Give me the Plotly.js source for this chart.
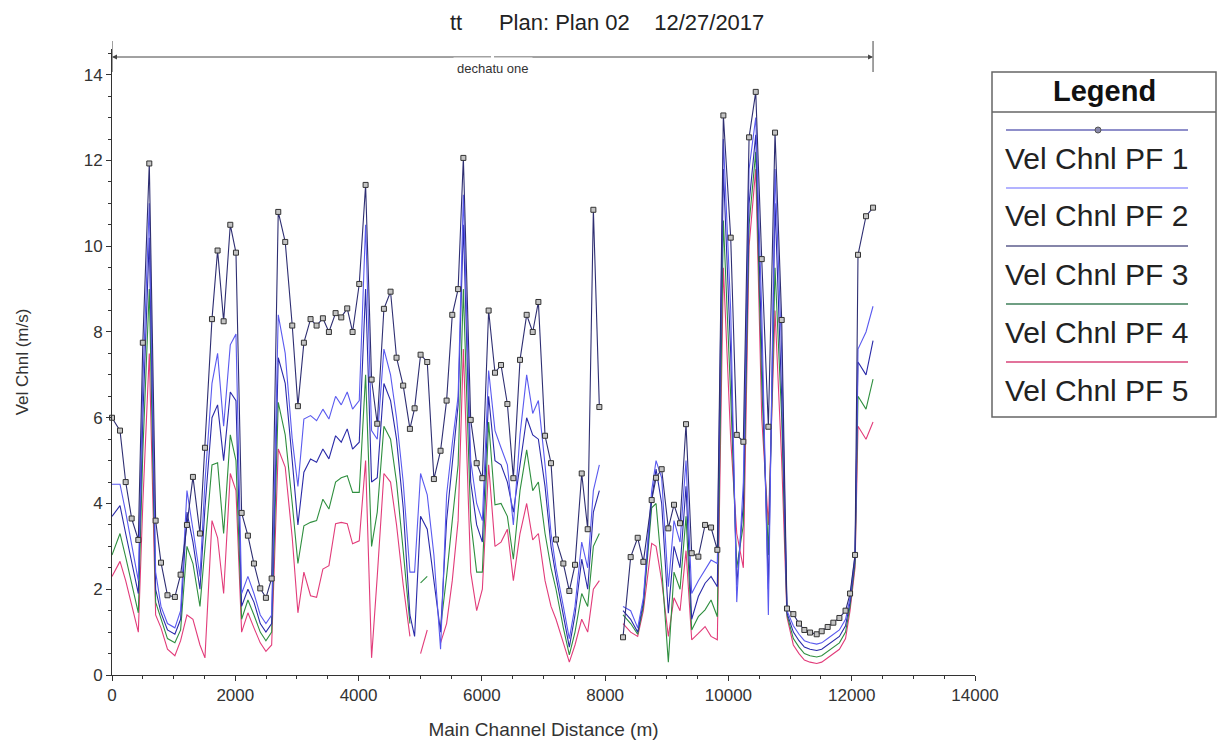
<!DOCTYPE html>
<html>
<head>
<meta charset="utf-8">
<script src="https://cdn.plot.ly/plotly-3.0.1.min.js"></script>
<style>html,body{margin:0;padding:0;background:#fff;}#chart{width:1218px;height:742px;}</style>
</head>
<body>
<div id="chart"></div>
<script>
// ---- data ----
const reachName = "dechatu one";
const seriesNames = ["Vel Chnl PF 1", "Vel Chnl PF 2", "Vel Chnl PF 3", "Vel Chnl PF 4", "Vel Chnl PF 5"];
const stations = [0,130,222,319,427,500,605,708,795,900,1020,1113,1216,1313,1427,1508,1622,1713,1811,1919,2011,2103,2205,2303,2405,2497,2590,2697,2810,2924,3016,3113,3221,3319,3421,3519,3627,3719,3816,3903,4011,4114,4211,4303,4411,4519,4616,4724,4833,4909,5006,5114,5222,5330,5428,5520,5615,5700,5819,5916,6008,6110,6213,6311,6414,6511,6619,6727,6825,6917,7025,7122,7203,7322,7419,7511,7620,7717,7809,7906,8100,8290,8414,8528,8620,8755,8826,8917,9025,9117,9215,9312,9404,9512,9621,9718,9820,9918,10037,10135,10242,10335,10443,10540,10648,10756,10864,10950,11053,11145,11232,11324,11432,11513,11610,11702,11800,11900,11973,12054,12102,12232,12346];
const pf1 = [6.0,5.7,4.5,3.65,3.15,7.75,11.93,3.6,2.62,1.86,1.82,2.34,3.5,4.62,3.3,5.3,8.3,9.9,8.25,10.5,9.85,3.78,3.25,2.6,2.02,1.8,2.25,10.8,10.1,8.15,6.27,7.75,8.3,8.15,8.32,8.0,8.44,8.34,8.55,8.0,9.12,11.43,6.89,5.86,8.54,8.94,7.4,6.75,5.74,6.22,7.47,7.3,4.57,5.23,6.4,8.4,9.0,12.06,5.95,4.94,4.59,8.5,7.05,7.23,6.32,4.59,7.35,8.4,8.0,8.7,5.58,4.94,3.16,2.6,1.96,2.57,4.7,3.4,10.85,6.25,null,0.88,2.75,3.2,2.64,4.08,4.6,4.8,3.42,3.97,3.54,5.85,2.84,2.76,3.5,3.44,2.92,13.05,10.2,5.6,5.44,12.54,13.6,9.7,5.79,12.65,8.28,1.55,1.42,1.2,1.05,0.99,0.95,1.02,1.12,1.22,1.33,1.5,1.9,2.8,9.8,10.7,10.9];
const pf2 = [4.45,4.45,3.8,3.0,2.2,6.8,11.0,2.4,1.6,1.2,1.1,1.5,4.3,3.4,2.3,4.5,6.8,7.5,5.8,7.7,7.95,1.9,2.3,1.9,1.4,1.2,1.4,8.4,7.5,5.5,4.4,5.97,6.05,5.93,6.2,5.97,6.5,6.3,6.6,6.2,6.4,10.5,5.7,5.5,7.6,7.0,6.0,4.5,2.4,2.4,4.7,4.2,2.8,0.6,4.2,5.4,6.5,11.2,5.0,4.0,3.6,7.1,5.7,5.3,4.9,3.5,5.6,7.0,6.1,6.4,4.9,3.3,2.5,1.6,0.85,1.6,3.1,2.5,4.3,4.9,null,1.6,1.5,1.1,1.8,4.3,5.0,4.6,2.06,3.6,3.1,5.0,1.9,2.2,2.45,2.68,2.6,12.5,8.5,1.7,4.5,11.8,13.0,8.5,1.4,11.8,7.5,1.5,1.15,0.95,0.8,0.75,0.72,0.75,0.85,0.95,1.05,1.3,1.8,2.8,7.6,8.0,8.6];
const pf3 = [3.7,3.95,3.3,2.6,1.9,6.0,10.2,2.0,1.45,1.05,0.95,1.3,3.8,3.1,2.0,3.9,6.0,6.3,5.0,6.6,6.4,1.6,2.0,1.7,1.2,1.0,1.2,7.4,6.8,5.0,3.5,4.73,5.04,4.96,5.27,5.04,5.58,5.43,5.74,5.27,5.43,9.0,4.5,4.6,6.8,6.4,5.5,3.9,1.4,0.9,3.7,3.4,2.2,1.0,3.6,5.0,6.3,10.5,4.5,3.5,3.1,6.5,5.0,4.9,4.5,3.8,4.9,6.0,5.6,5.5,4.4,3.0,2.3,1.4,0.65,1.4,2.7,2.0,3.8,4.3,null,1.5,1.3,1.0,1.7,4.1,4.8,4.0,1.44,3.0,2.5,4.4,1.3,1.83,2.14,2.3,2.06,11.8,7.5,2.1,4.0,11.0,12.6,7.6,2.0,11.0,6.5,1.45,1.0,0.8,0.65,0.6,0.57,0.6,0.7,0.8,0.9,1.15,1.7,2.7,7.3,7.0,7.8];
const pf4 = [2.8,3.3,2.75,2.1,1.45,5.2,9.0,1.7,1.3,0.85,0.75,1.05,3.0,2.6,1.6,3.0,4.9,4.95,3.3,5.6,5.0,1.3,1.75,1.4,1.0,0.8,1.0,6.36,5.6,4.0,2.6,3.48,3.56,3.6,4.1,3.87,4.5,4.6,4.65,4.26,4.26,7.0,3.0,3.8,5.8,5.5,4.5,2.9,1.2,null,2.15,2.3,null,1.1,2.3,3.6,4.9,9.0,3.6,2.4,2.4,5.9,3.97,4.0,3.7,2.7,4.3,5.25,4.3,4.5,3.3,2.5,2.0,1.1,0.47,1.0,1.9,1.6,3.0,3.3,null,1.4,1.2,0.95,1.6,3.9,4.0,2.5,0.3,2.4,2.0,3.7,1.05,1.36,1.52,1.75,1.36,10.6,6.5,2.5,3.5,10.5,12.2,6.8,2.8,9.5,6.0,1.4,0.85,0.65,0.5,0.45,0.42,0.45,0.55,0.65,0.75,1.0,1.6,2.6,6.5,6.2,6.9];
const pf5 = [2.3,2.65,2.2,1.6,1.0,4.0,7.5,1.4,1.1,0.6,0.45,0.8,1.4,1.3,0.7,0.4,3.6,3.2,1.9,4.7,4.3,1.0,1.45,1.1,0.75,0.55,0.7,5.27,4.85,3.2,1.45,2.4,1.85,1.81,2.47,2.55,3.53,3.56,3.53,3.06,3.13,5.0,0.4,2.3,4.7,4.5,3.5,2.1,0.9,null,0.5,1.05,null,0.75,1.2,2.2,3.6,7.6,2.4,1.5,2.0,4.9,3.0,3.1,3.4,2.2,3.3,4.0,3.15,3.3,2.2,1.6,1.3,0.75,0.3,0.7,1.3,1.0,2.0,2.2,null,1.2,1.0,0.9,1.5,3.07,3.0,2.2,0.9,1.8,1.5,2.9,0.82,0.97,1.13,0.9,0.82,9.5,5.5,3.3,2.5,10.0,11.8,6.0,3.5,8.5,5.0,1.35,0.7,0.5,0.35,0.3,0.27,0.3,0.4,0.5,0.6,0.85,1.5,2.5,5.8,5.5,5.9];
const xTickVals = [0,2000,4000,6000,8000,10000,12000,14000];
const yTickVals = [0,2,4,6,8,10,12,14];
const titleText = 'tt\u00a0\u00a0\u00a0\u00a0\u00a0\u00a0Plan: Plan 02\u00a0\u00a0\u00a0\u00a012/27/2017';

// ---- layout geometry ----
const W = 1218, H = 742;
const M = {l:112, r:243, t:49, b:67};
const PW = W - M.l - M.r, PH = H - M.t - M.b;
const px2x = p => (p - M.l) / PW;          // page px -> paper x
const px2y = p => (H - M.b - p) / PH;      // page px -> paper y

const colors = ['#2e2e72', '#5a5aef', '#2a2aa8', '#2f8f3f', '#e23c7a'];
const legendColors = ['#6a6ab8', '#9a9aff', '#5c5c8c', '#3f7f5a', '#d8447a'];
const series = [pf1, pf2, pf3, pf4, pf5];

const traces = [];
for (let i = series.length - 1; i >= 0; i--) {
  const t = {
    x: stations, y: series[i], type: 'scatter', name: seriesNames[i],
    mode: i === 0 ? 'lines+markers' : 'lines',
    line: {color: colors[i], width: 1.1},
    connectgaps: false, showlegend: false, cliponaxis: false, hoverinfo: 'x+y+name'
  };
  if (i === 0) t.marker = {symbol: 'square', size: 5, color: '#c4c4c4', line: {color: '#333', width: 1}};
  traces.push(t);
}

const font = 'Liberation Sans, Arial, sans-serif';
const shapes = [];
const annotations = [];

// reach bracket ("dechatu one")
const reachStart = stations[0], reachEnd = stations[stations.length - 1];
const reachMid = (reachStart + reachEnd) / 2;
const yb = px2y(57);
shapes.push({type:'line', xref:'x', yref:'paper', x0:reachStart, x1:reachStart, y0:px2y(41), y1:px2y(72), line:{color:'#444', width:1}});
shapes.push({type:'line', xref:'x', yref:'paper', x0:reachEnd, x1:reachEnd, y0:px2y(41), y1:px2y(72), line:{color:'#444', width:1}});
[reachStart, reachEnd].forEach(xe => annotations.push({
  x: xe, y: yb, xref:'x', yref:'paper', axref:'x', ax: reachMid, ayref:'pixel', ay: 0,
  text:'', showarrow:true, arrowhead:2, arrowsize:1, arrowwidth:1, arrowcolor:'#444'
}));
annotations.push({x: reachMid, y: yb, xref:'x', yref:'paper', text: reachName, showarrow:false,
  font:{family:font, size:13, color:'#333'}, bgcolor:'#fff', borderpad:3});

// title
annotations.push({x: px2x(607), y: px2y(22), xref:'paper', yref:'paper', text: titleText,
  showarrow:false, font:{family:font, size:22, color:'#222'}, xanchor:'center', yanchor:'middle'});

// legend box (drawn by hand: line sample above its label)
const lx0 = px2x(992), lx1 = px2x(1216);
shapes.push({type:'rect', xref:'paper', yref:'paper', x0:lx0, x1:lx1, y0:px2y(417), y1:px2y(72), line:{color:'#666', width:1.5}, fillcolor:'rgba(0,0,0,0)'});
shapes.push({type:'line', xref:'paper', yref:'paper', x0:lx0, x1:lx1, y0:px2y(112), y1:px2y(112), line:{color:'#666', width:1.5}});
annotations.push({x:(lx0+lx1)/2, y:px2y(91), xref:'paper', yref:'paper', text:'<b>Legend</b>', showarrow:false,
  font:{family:font, size:29, color:'#111'}, xanchor:'center', yanchor:'middle'});
seriesNames.forEach((nm, i) => {
  const ly = 130 + 58 * i;
  shapes.push({type:'line', xref:'paper', yref:'paper', x0:px2x(1006), x1:px2x(1188), y0:px2y(ly), y1:px2y(ly), line:{color:legendColors[i], width:1.3}});
  if (i === 0) shapes.push({type:'circle', xref:'paper', yref:'paper', x0:px2x(1095), x1:px2x(1101), y0:px2y(ly+3), y1:px2y(ly-3), line:{color:'#555', width:1}, fillcolor:'#8888aa'});
  annotations.push({x:px2x(1003), y:px2y(ly + 28), xref:'paper', yref:'paper', text:nm, showarrow:false,
    font:{family:font, size:30, color:'#222'}, xanchor:'left', yanchor:'middle'});
});

const layout = {
  width: W, height: H, margin: M, paper_bgcolor:'#fff', plot_bgcolor:'#fff',
  showlegend: false,
  font: {family: font, color:'#333'},
  xaxis: {range:[0,14000], tickvals:xTickVals, ticktext:xTickVals.map(String), showgrid:false, zeroline:false,
    showline:true, linecolor:'#333', linewidth:1, ticks:'outside', ticklen:5, tickcolor:'#333',
    minor:{dtick:500, ticks:'outside', ticklen:3, tickcolor:'#333'},
    tickfont:{family:font, size:17, color:'#333'},
    title:{text:'Main Channel Distance (m)', font:{family:font, size:19, color:'#333'}, standoff:18}},
  yaxis: {range:[0,14.6], tickvals:yTickVals, ticktext:yTickVals.map(String), showgrid:false, zeroline:false,
    showline:true, linecolor:'#333', linewidth:1, ticks:'outside', ticklen:5, tickcolor:'#333',
    minor:{dtick:0.5, ticks:'outside', ticklen:3, tickcolor:'#333'},
    tickfont:{family:font, size:17, color:'#333'},
    title:{text:'Vel Chnl (m/s)', font:{family:font, size:17, color:'#333'}, standoff:50}},
  shapes: shapes, annotations: annotations
};

Plotly.newPlot('chart', traces, layout, {displayModeBar:false, staticPlot:true});
</script>
</body>
</html>
